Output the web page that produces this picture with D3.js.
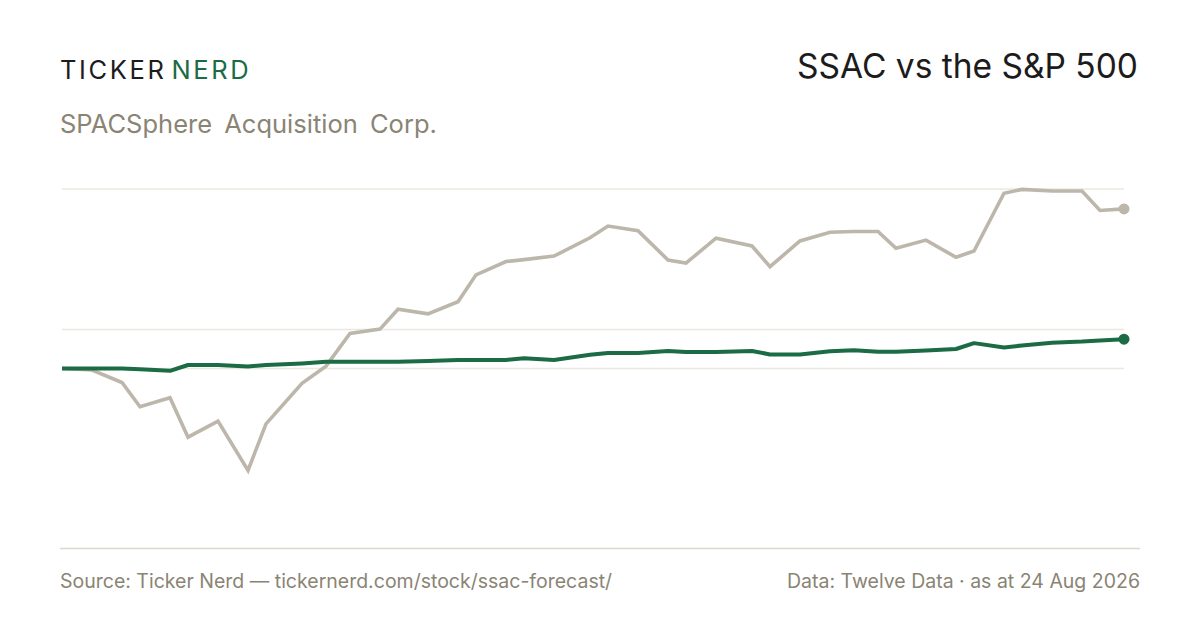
<!DOCTYPE html>
<html>
<head>
<meta charset="utf-8">
<script src="https://cdn.jsdelivr.net/npm/d3@7"></script>
<style>
  html, body { margin: 0; padding: 0; background: #ffffff; }
  svg { display: block; }
</style>
</head>
<body>
<svg id="chart" width="1200" height="630"></svg>
<script>
// ---- data ----
const dates = [
  "2026-02-28","2026-03-05","2026-03-10","2026-03-13","2026-03-18","2026-03-21",
  "2026-03-26","2026-03-31","2026-04-03","2026-04-09","2026-04-13","2026-04-17",
  "2026-04-22","2026-04-25","2026-04-30","2026-05-05","2026-05-08","2026-05-13",
  "2026-05-16","2026-05-21","2026-05-27","2026-05-30","2026-06-04","2026-06-09",
  "2026-06-12","2026-06-17","2026-06-23","2026-06-26","2026-07-01","2026-07-06",
  "2026-07-10","2026-07-14","2026-07-17","2026-07-22","2026-07-27","2026-07-30",
  "2026-08-04","2026-08-07","2026-08-12","2026-08-17","2026-08-20","2026-08-24"
];
// cumulative % return since start
const ssacReturn = [
  0, -0.4, -3.6, -9.8, -7.5, -17.6,
  -13.5, -26.1, -14.2, -3.8, 0.6, 9.0,
  10.1, 15.2, 14.0, 17.1, 24.0, 27.4,
  27.9, 28.8, 33.5, 36.5, 35.3, 27.8,
  27.0, 33.4, 31.4, 26.1, 32.7, 34.9,
  35.1, 35.1, 30.8, 32.9, 28.5, 30.1,
  44.9, 45.9, 45.5, 45.5, 40.5, 40.9
];
const spxReturn = [
  0, 0, 0, -0.2, -0.6, 0.9,
  0.9, 0.5, 0.9, 1.3, 1.7, 1.7,
  1.7, 1.7, 1.9, 2.2, 2.2, 2.2,
  2.6, 2.2, 3.5, 4.0, 4.0, 4.5,
  4.2, 4.2, 4.5, 3.6, 3.6, 4.4,
  4.7, 4.3, 4.3, 4.6, 5.0, 6.5,
  5.4, 5.9, 6.6, 6.9, 7.2, 7.5
];
const gridValues = [0, 10, 46];
const yDomain = [-46, 46];

const brand1 = "TICKER";
const brand2 = "NERD";
const titleText = "SSAC vs the S&P 500";
const subtitleText = "SPACSphere Acquisition Corp.";
const sourceText = "Source: Ticker Nerd \u2014 tickernerd.com/stock/ssac-forecast/";
const dataText = "Data: Twelve Data \u00b7 as at 24 Aug 2026";

// ---- drawing ----
const svg = d3.select("#chart");
const parse = d3.timeParse("%Y-%m-%d");
const pts = dates.map((d, i) => ({ date: parse(d), ssac: ssacReturn[i], spx: spxReturn[i] }));

const x = d3.scaleTime()
  .domain(d3.extent(pts, d => d.date))
  .range([62, 1124]);
const y = d3.scaleLinear()
  .domain(yDomain)
  .range([548, 189]);

const FONT = "Inter, 'Liberation Sans', Arial, sans-serif";
const MUTED = "#8a8474";
const GREEN = "#1b6b44";
const GREY = "#bdb7ab";

// header
const brand = svg.append("text")
  .attr("x", 60).attr("y", 79)
  .attr("font-family", FONT).attr("font-size", 25.5)
  .attr("letter-spacing", 2.6)
  .attr("fill", "#1c1c1c");
brand.append("tspan").text(brand1);
brand.append("tspan").attr("dx", 5).attr("fill", GREEN).text(brand2);

svg.append("text")
  .attr("x", 1138).attr("y", 78)
  .attr("text-anchor", "end")
  .attr("font-family", FONT).attr("font-size", 33.5)
  .attr("fill", "#1c1c1c")
  .text(titleText);

svg.append("text")
  .attr("x", 60).attr("y", 133)
  .attr("font-family", FONT).attr("font-size", 25.5)
  .attr("word-spacing", 5)
  .attr("fill", MUTED)
  .text(subtitleText);

// gridlines
svg.append("g")
  .selectAll("line")
  .data(gridValues)
  .join("line")
  .attr("x1", x.range()[0]).attr("x2", x.range()[1])
  .attr("y1", d => y(d)).attr("y2", d => y(d))
  .attr("stroke", "#ebe8e2").attr("stroke-width", 1.3);

// lines
const lineSsac = d3.line().x(d => x(d.date)).y(d => y(d.ssac));
const lineSpx = d3.line().x(d => x(d.date)).y(d => y(d.spx));

svg.append("path")
  .datum(pts)
  .attr("fill", "none")
  .attr("stroke", GREY)
  .attr("stroke-width", 3.6)
  .attr("stroke-linejoin", "miter")
  .attr("d", lineSsac);

svg.append("path")
  .datum(pts)
  .attr("fill", "none")
  .attr("stroke", GREEN)
  .attr("stroke-width", 4)
  .attr("stroke-linejoin", "round")
  .attr("d", lineSpx);

const last = pts[pts.length - 1];
svg.append("circle")
  .attr("cx", x(last.date)).attr("cy", y(last.ssac))
  .attr("r", 5.5).attr("fill", GREY);
svg.append("circle")
  .attr("cx", x(last.date)).attr("cy", y(last.spx))
  .attr("r", 5.5).attr("fill", GREEN);

// footer
svg.append("line")
  .attr("x1", 60).attr("x2", 1140)
  .attr("y1", 548.5).attr("y2", 548.5)
  .attr("stroke", "#dcd8ce").attr("stroke-width", 1.5);

svg.append("text")
  .attr("x", 60).attr("y", 588)
  .attr("font-family", FONT).attr("font-size", 19.5)
  .attr("fill", MUTED)
  .text(sourceText);

svg.append("text")
  .attr("x", 1140).attr("y", 588)
  .attr("text-anchor", "end")
  .attr("font-family", FONT).attr("font-size", 19.5)
  .attr("fill", MUTED)
  .text(dataText);
</script>
</body>
</html>
